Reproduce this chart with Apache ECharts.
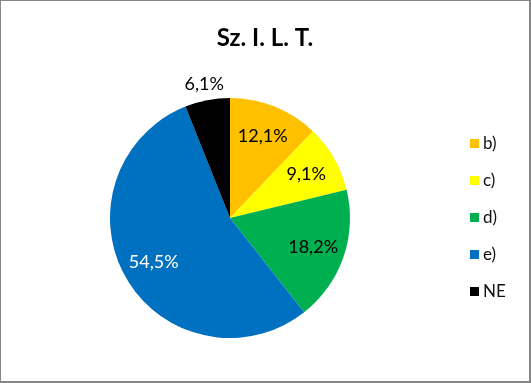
<!DOCTYPE html>
<html><head><meta charset="utf-8">
<script src="https://cdn.jsdelivr.net/npm/echarts@6/dist/echarts.min.js"></script>
<style>
html,body{margin:0;padding:0;background:#fff;}
#c{width:531px;height:383px;box-sizing:border-box;border-style:solid;border-color:#868686;border-width:1px 2px 2px 1px;}
</style></head>
<body><div id="c"></div>
<script>
const titleText = 'Sz. I. L. T.';
const categories = ['b)', 'c)', 'd)', 'e)', 'NE'];
const values = [4, 3, 6, 18, 2];
const colors = ['#FFC000', '#FFFF00', '#00B050', '#0070C0', '#000000'];
const labelColors = ['#000', '#000', '#000', '#fff', '#000'];

const total = values.reduce((a, b) => a + b, 0);
const fmt = p => (p.value / total * 100).toFixed(1).replace('.', ',') + '%';
const FONT = 'Lato, "Open Sans", sans-serif';
const center = [229, 217];

const chart = echarts.init(document.getElementById('c'), null, {renderer: 'canvas'});
chart.setOption({
  animation: false,
  color: colors,
  title: {
    text: titleText, left: 'center', top: 20,
    textStyle: {fontFamily: FONT, fontWeight: 'bold', fontSize: 24, color: '#000'}
  },
  legend: {
    orient: 'vertical', left: 464, top: 129,
    itemWidth: 9, itemHeight: 9, itemGap: 20, icon: 'rect',
    data: categories,
    textStyle: {fontFamily: FONT, fontSize: 17, color: '#111', padding: [0, 0, 0, -1]}
  },
  series: [
    {
      type: 'pie', center: center, radius: [0, 120], startAngle: 90, clockwise: true,
      label: {show: false}, labelLine: {show: false},
      itemStyle: {borderWidth: 0},
      emphasis: {disabled: true},
      data: categories.map((c, i) => ({name: c, value: values[i]}))
    },
    {
      type: 'pie', center: center, radius: [0, 170], startAngle: 90, silent: true,
      legendHoverLink: false,
      itemStyle: {color: 'rgba(0,0,0,0)', borderWidth: 0},
      label: {show: true, position: 'inside', formatter: fmt, fontFamily: FONT, fontSize: 18},
      labelLine: {show: false},
      emphasis: {disabled: true},
      data: categories.map((c, i) => ({
        name: c + ' ', value: values[i],
        label: {show: i < 4, color: labelColors[i]}
      }))
    },
    {
      type: 'pie', center: center, radius: [0, 266], startAngle: 90, silent: true,
      legendHoverLink: false,
      itemStyle: {color: 'rgba(0,0,0,0)', borderWidth: 0},
      label: {show: true, position: 'inside', formatter: fmt, fontFamily: FONT, fontSize: 18},
      labelLine: {show: false},
      emphasis: {disabled: true},
      data: categories.map((c, i) => ({
        name: c + '  ', value: values[i],
        label: {show: i === 4, color: labelColors[i]}
      }))
    }
  ]
});
</script></body></html>
